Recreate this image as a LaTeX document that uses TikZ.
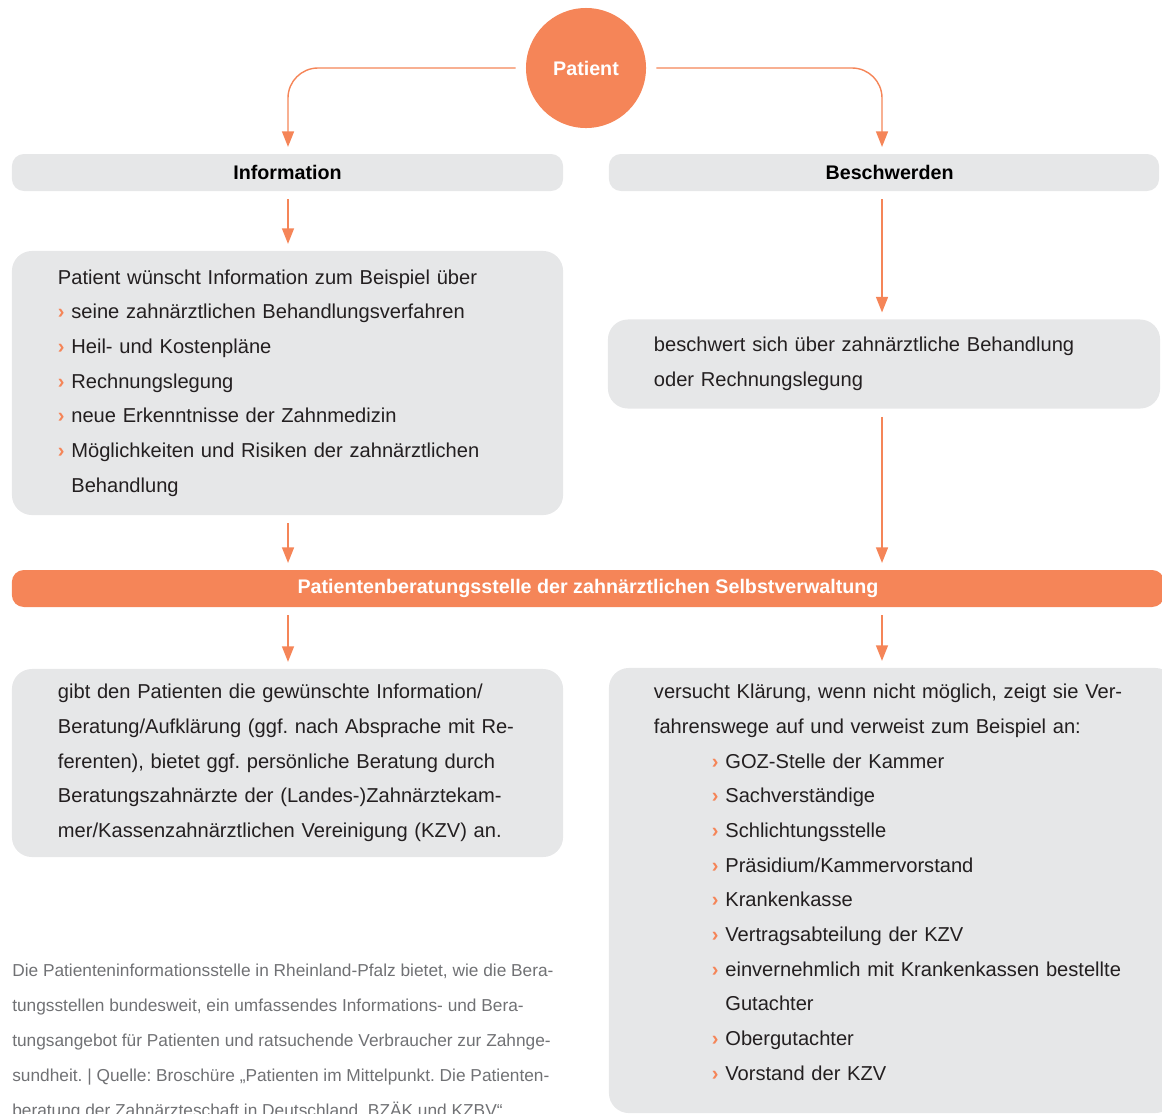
\documentclass[tikz,border=0pt]{standalone}
\usepackage{fontspec}
\setmainfont{Liberation Sans}
\usetikzlibrary{arrows.meta}
\definecolor{orangeP}{HTML}{F58558}
\definecolor{boxgray}{HTML}{E6E7E8}
\definecolor{txt}{HTML}{231F20}
\definecolor{srcgray}{HTML}{707174}
\newcommand{\bul}{{\color{orangeP}\bfseries ›} }
\newcommand{\ind}{\hspace*{1.45cm}}
\frenchspacing

\begin{document}
\begin{tikzpicture}[x=0.025cm,y=-0.025cm,
  box/.style={fill=boxgray,rounded corners=0.5cm,inner xsep=1.15cm,inner ysep=0pt,
    text width=11.475cm,align=left,text=txt,font=\fontsize{14.3}{24.66}\selectfont},
  head/.style={fill=boxgray,rounded corners=0.3cm,minimum width=13.775cm,
    minimum height=0.925cm,inner sep=0pt,font=\bfseries\fontsize{14}{16}\selectfont},
  conn/.style={draw=orangeP,line width=1pt,shorten <=0.2cm,shorten >=0.17cm,
    -{Triangle[width=8.5pt,length=11pt]}}]
  \clip (0,0) rectangle (1162,1113);
  \coordinate (lcol) at (288,0);
  \coordinate (rcol) at (882,0);
  % top
  \node[circle,fill=orangeP,minimum size=3cm,inner sep=0pt,text=white,
    font=\bfseries\fontsize{14}{16}\selectfont] (patient) at (586,68) {Patient};
  \node[head] (infohead) at (287.5,172.5) {Information};
  \node[head,minimum width=13.75cm] (beschhead) at (884,172.5) {\hspace*{8pt}Beschwerden};
  % second row
  \node[box,minimum height=6.6cm] (infotext) at (287.5,383) {%
    Patient wünscht Information zum Beispiel über\\
    \bul seine zahnärztlichen Behandlungsverfahren\\
    \bul Heil- und Kostenpläne\\
    \bul Rechnungslegung\\
    \bul neue Erkenntnisse der Zahnmedizin\\
    \bul Möglichkeiten und Risiken der zahnärztlichen\\
    \hphantom{\bul}Behandlung};
  \node[box,text width=11.5cm,minimum height=2.225cm] (beschtext) at (884,364) {%
    beschwert sich über zahnärztliche Behandlung\\
    oder Rechnungslegung};
  % bar
  \node[fill=orangeP,rounded corners=0.3cm,minimum width=28.8cm,minimum height=0.925cm,
    inner sep=0pt,text=white,font=\bfseries\fontsize{14}{16}\selectfont] (bar) at (588,588.5)
    {Patientenberatungsstelle der zahnärztlichen Selbstverwaltung};
  % third row
  \node[box,minimum height=4.7cm] (answer) at (287.5,763) {%
    gibt den Patienten die gewünschte Information/\\
    Beratung/Aufklärung (ggf. nach Absprache mit Re-\\
    ferenten), bietet ggf. persönliche Beratung durch\\
    Beratungszahnärzte der (Landes-)Zahnärztekam-\\
    mer/Kassenzahnärztlichen Vereinigung (KZV) an.};
  \node[box,inner xsep=1.125cm,text width=11.9cm,minimum height=11.125cm] (routes) at (892,890.5) {%
    versucht Klärung, wenn nicht möglich, zeigt sie Ver-\\
    fahrenswege auf und verweist zum Beispiel an:\\
    \ind\bul GOZ-Stelle der Kammer\\
    \ind\bul Sachverständige\\
    \ind\bul Schlichtungsstelle\\
    \ind\bul Präsidium/Kammervorstand\\
    \ind\bul Krankenkasse\\
    \ind\bul Vertragsabteilung der KZV\\
    \ind\bul einvernehmlich mit Krankenkassen bestellte\\
    \ind\hphantom{\bul}Gutachter\\
    \ind\bul Obergutachter\\
    \ind\bul Vorstand der KZV\\[-13pt]\mbox{}};
  % source note
  \node[anchor=north west,inner sep=0pt,align=left,text=srcgray,
    font=\fontsize{12.3}{24.9}\selectfont] (source) at (12,964) {%
    Die Patienteninformationsstelle in Rheinland-Pfalz bietet, wie die Bera-\\
    tungsstellen bundesweit, ein umfassendes Informations- und Bera-\\
    tungsangebot für Patienten und ratsuchende Verbraucher zur Zahnge-\\
    sundheit. | Quelle: Broschüre „Patienten im Mittelpunkt. Die Patienten-\\
    beratung der Zahnärzteschaft in Deutschland, BZÄK und KZBV“};
  % arrows
  \draw[conn,rounded corners=0.75cm,shorten <=0.25cm] (patient.west) -| (infohead.north -| lcol);
  \draw[conn,rounded corners=0.75cm,shorten <=0.25cm] (patient.east) -| (beschhead.north -| rcol);
  \draw[conn] (infohead.south -| lcol) -- (infotext.north -| lcol);
  \draw[conn] (beschhead.south -| rcol) -- (beschtext.north -| rcol);
  \draw[conn] (infotext.south -| lcol) -- (bar.north -| lcol);
  \draw[conn] (beschtext.south -| rcol) -- (bar.north -| rcol);
  \draw[conn] (bar.south -| lcol) -- (answer.north -| lcol);
  \draw[conn] (bar.south -| rcol) -- (routes.north -| rcol);
\end{tikzpicture}
\end{document}
